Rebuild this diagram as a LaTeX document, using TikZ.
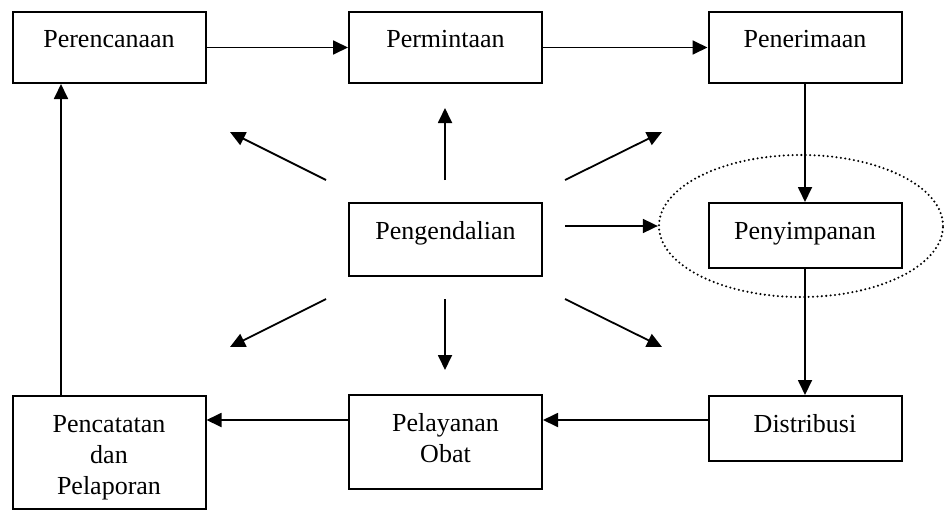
\documentclass[tikz,border=0pt]{standalone}
\usepackage{fontspec}
\setmainfont{Liberation Serif}
\usetikzlibrary{
  arrows.meta,
  shapes.geometric,
  positioning
}

\begin{document}
\begin{tikzpicture}[
  x=1pt, y=-1pt,
  proc/.style={
    rectangle, draw=black, fill=white, line width=2pt,
    minimum width=193pt, inner sep=0pt, text height=36pt,
    align=center, font=\fontsize{26}{31}\selectfont
  },
  flow/.style={draw=black, line width=1.8pt, -{Triangle[length=15pt,width=14pt]}},
  zone/.style={
    ellipse, draw=black, line width=2.3pt, line cap=round,
    dash pattern=on 0pt off 4.4pt,
    minimum width=284pt, minimum height=142pt, inner sep=0pt
  }
]
  \useasboundingbox (0,0) rectangle (944,511);

  % storage group
  \node[zone] (store zone) at (801,226) {};

  \node[proc, text depth=35pt] (plan) at (109,47.5) {Perencanaan};
  \node[proc, text depth=35pt] (request) at (445.5,47.5) {Permintaan};
  \node[proc, text depth=35pt] (receive) at (805,47.5) {Penerimaan};
  \node[proc, text depth=37pt] (control) at (445.5,239.5) {Pengendalian};
  \node[proc, text depth=29pt] (store) at (805,235.5) {Penyimpanan};
  \node[proc, text depth=29pt] (distrib) at (805,428.5) {Distribusi};
  \node[proc, text height=67pt, text depth=27pt] (service) at (445.5,442) {Pelayanan\\Obat};
  \node[proc, text height=98pt, text depth=15pt] (report) at (109,452.5) {Pencatatan\\dan\\Pelaporan};

  % main cycle
  \draw[flow] (plan) -- (request);
  \draw[flow] (request) -- (receive);
  \draw[flow] (receive) -- (store);
  \draw[flow] (store) -- (distrib);
  \draw[flow] ([yshift=8.5pt]distrib.west) -- ([yshift=8.5pt]distrib.west -| service.east);
  \draw[flow] ([yshift=22pt]service.west) -- ([yshift=22pt]service.west -| report.east);
  \draw[flow] ([xshift=-48pt]report.north) -- ([xshift=-48pt]plan.south);

  % control spokes
  \foreach \dir/\sx/\sy/\ex/\ey in {
      n/445/180/445/108, nw/326/180/230/132, ne/565/180/662/132,
      sw/326/299/230/347, s/445/299/445/370, se/565/299/662/347} {
    \coordinate (from \dir) at (\sx,\sy);
    \coordinate (to \dir) at (\ex,\ey);
    \draw[flow] (from \dir) -- (to \dir);
  }
  \coordinate (from e) at (565,226);
  \draw[flow] (from e) -- (store zone.west);
\end{tikzpicture}
\end{document}
